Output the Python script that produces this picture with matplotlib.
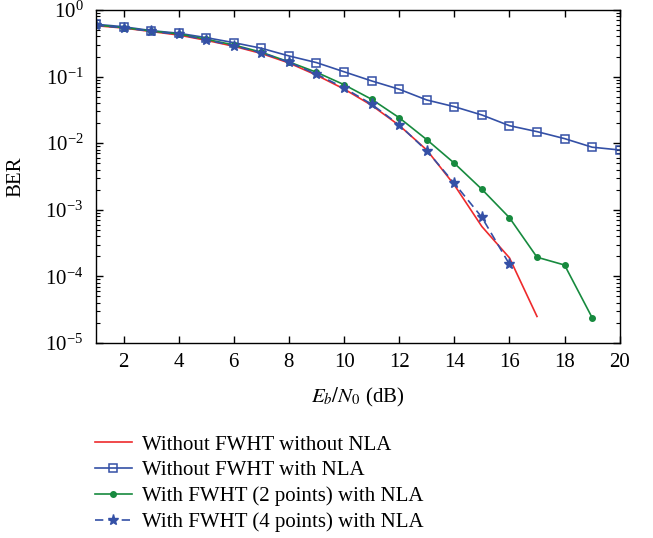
import numpy as np
import matplotlib
matplotlib.use("Agg")
import matplotlib.pyplot as plt
from matplotlib.ticker import LogLocator, NullFormatter

plt.rcParams['font.family'] = ['Liberation Serif', 'DejaVu Serif']
plt.rcParams['mathtext.fontset'] = 'stix'

# Eb/N0 (dB)
snr_a = np.arange(1, 18)
snr_b = np.arange(1, 21)
snr_c = np.arange(1, 20)
snr_d = np.arange(1, 17)

ber_no_fwht_no_nla = [0.58, 0.535, 0.475, 0.42, 0.35, 0.285, 0.222, 0.16, 0.105,
                      0.065, 0.037, 0.0185, 0.0079, 0.00236, 0.00056, 0.00019, 2.5e-5]
ber_no_fwht_nla = [0.61, 0.56, 0.49, 0.447, 0.384, 0.323, 0.266, 0.204, 0.162, 0.118,
                   0.086, 0.0645, 0.0445, 0.0353, 0.0265, 0.0183, 0.0149, 0.0117,
                   0.0087, 0.0079]
ber_fwht2_nla = [0.595, 0.542, 0.484, 0.436, 0.363, 0.298, 0.232, 0.166, 0.116,
                 0.0755, 0.0456, 0.0241, 0.0113, 0.005, 0.00203, 0.00076, 0.000194,
                 0.000148, 2.4e-5]
ber_fwht4_nla = [0.59, 0.54, 0.48, 0.43, 0.355, 0.29, 0.228, 0.164, 0.109, 0.0675,
                 0.0384, 0.0188, 0.0077, 0.0025, 0.00077, 0.000152]

labels = ["Without FWHT without NLA", "Without FWHT with NLA",
          "With FWHT (2 points) with NLA", "With FWHT (4 points) with NLA"]

red = "#ee2a2c"
blue = "#3450a6"
green = "#178a3e"

fig = plt.figure(figsize=(6.53, 5.38), dpi=100)
ax = fig.add_axes([0.147, 0.3625, 0.802, 0.619])

ax.semilogy(snr_a, ber_no_fwht_no_nla, color=red, lw=1.2, label=labels[0])
ax.semilogy(snr_b, ber_no_fwht_nla, color=blue, lw=1.2, marker='s', ms=6,
            mfc='none', mec=blue, mew=1.1, label=labels[1])
ax.semilogy(snr_c, ber_fwht2_nla, color=green, lw=1.2, marker='o', ms=4,
            mfc=green, mec=green, label=labels[2])
ax.semilogy(snr_d, ber_fwht4_nla, color=blue, lw=1.2, ls=(0, (5, 3)), marker='*',
            ms=8, mfc=blue, mec=blue, label=labels[3])

ax.set_xlim(1, 20)
ax.set_ylim(1e-5, 1)
ax.set_xticks(np.arange(2, 21, 2))
ax.yaxis.set_major_locator(LogLocator(base=10, numticks=10))
ax.yaxis.set_minor_locator(LogLocator(base=10, subs=np.arange(2, 10), numticks=10))
ax.yaxis.set_minor_formatter(NullFormatter())
ax.tick_params(which='both', direction='in', top=True, right=True, labelsize=15)
ax.tick_params(axis='y', which='major', pad=9)
ax.tick_params(axis='x', which='major', pad=7)
ax.tick_params(which='major', length=5, width=1)
ax.tick_params(which='minor', length=3, width=0.8)
for s in ax.spines.values():
    s.set_linewidth(1.0)

ax.set_xlabel(r"$E_b/N_0$ (dB)", fontsize=15, labelpad=10)
ax.set_ylabel("BER", fontsize=15, labelpad=14)

fig.legend(loc='upper left', bbox_to_anchor=(0.133, 0.207), frameon=False,
           fontsize=15, handlelength=1.75, handletextpad=0.5, labelspacing=0.3,
           borderaxespad=0)

fig.savefig("out.png", dpi=100)
